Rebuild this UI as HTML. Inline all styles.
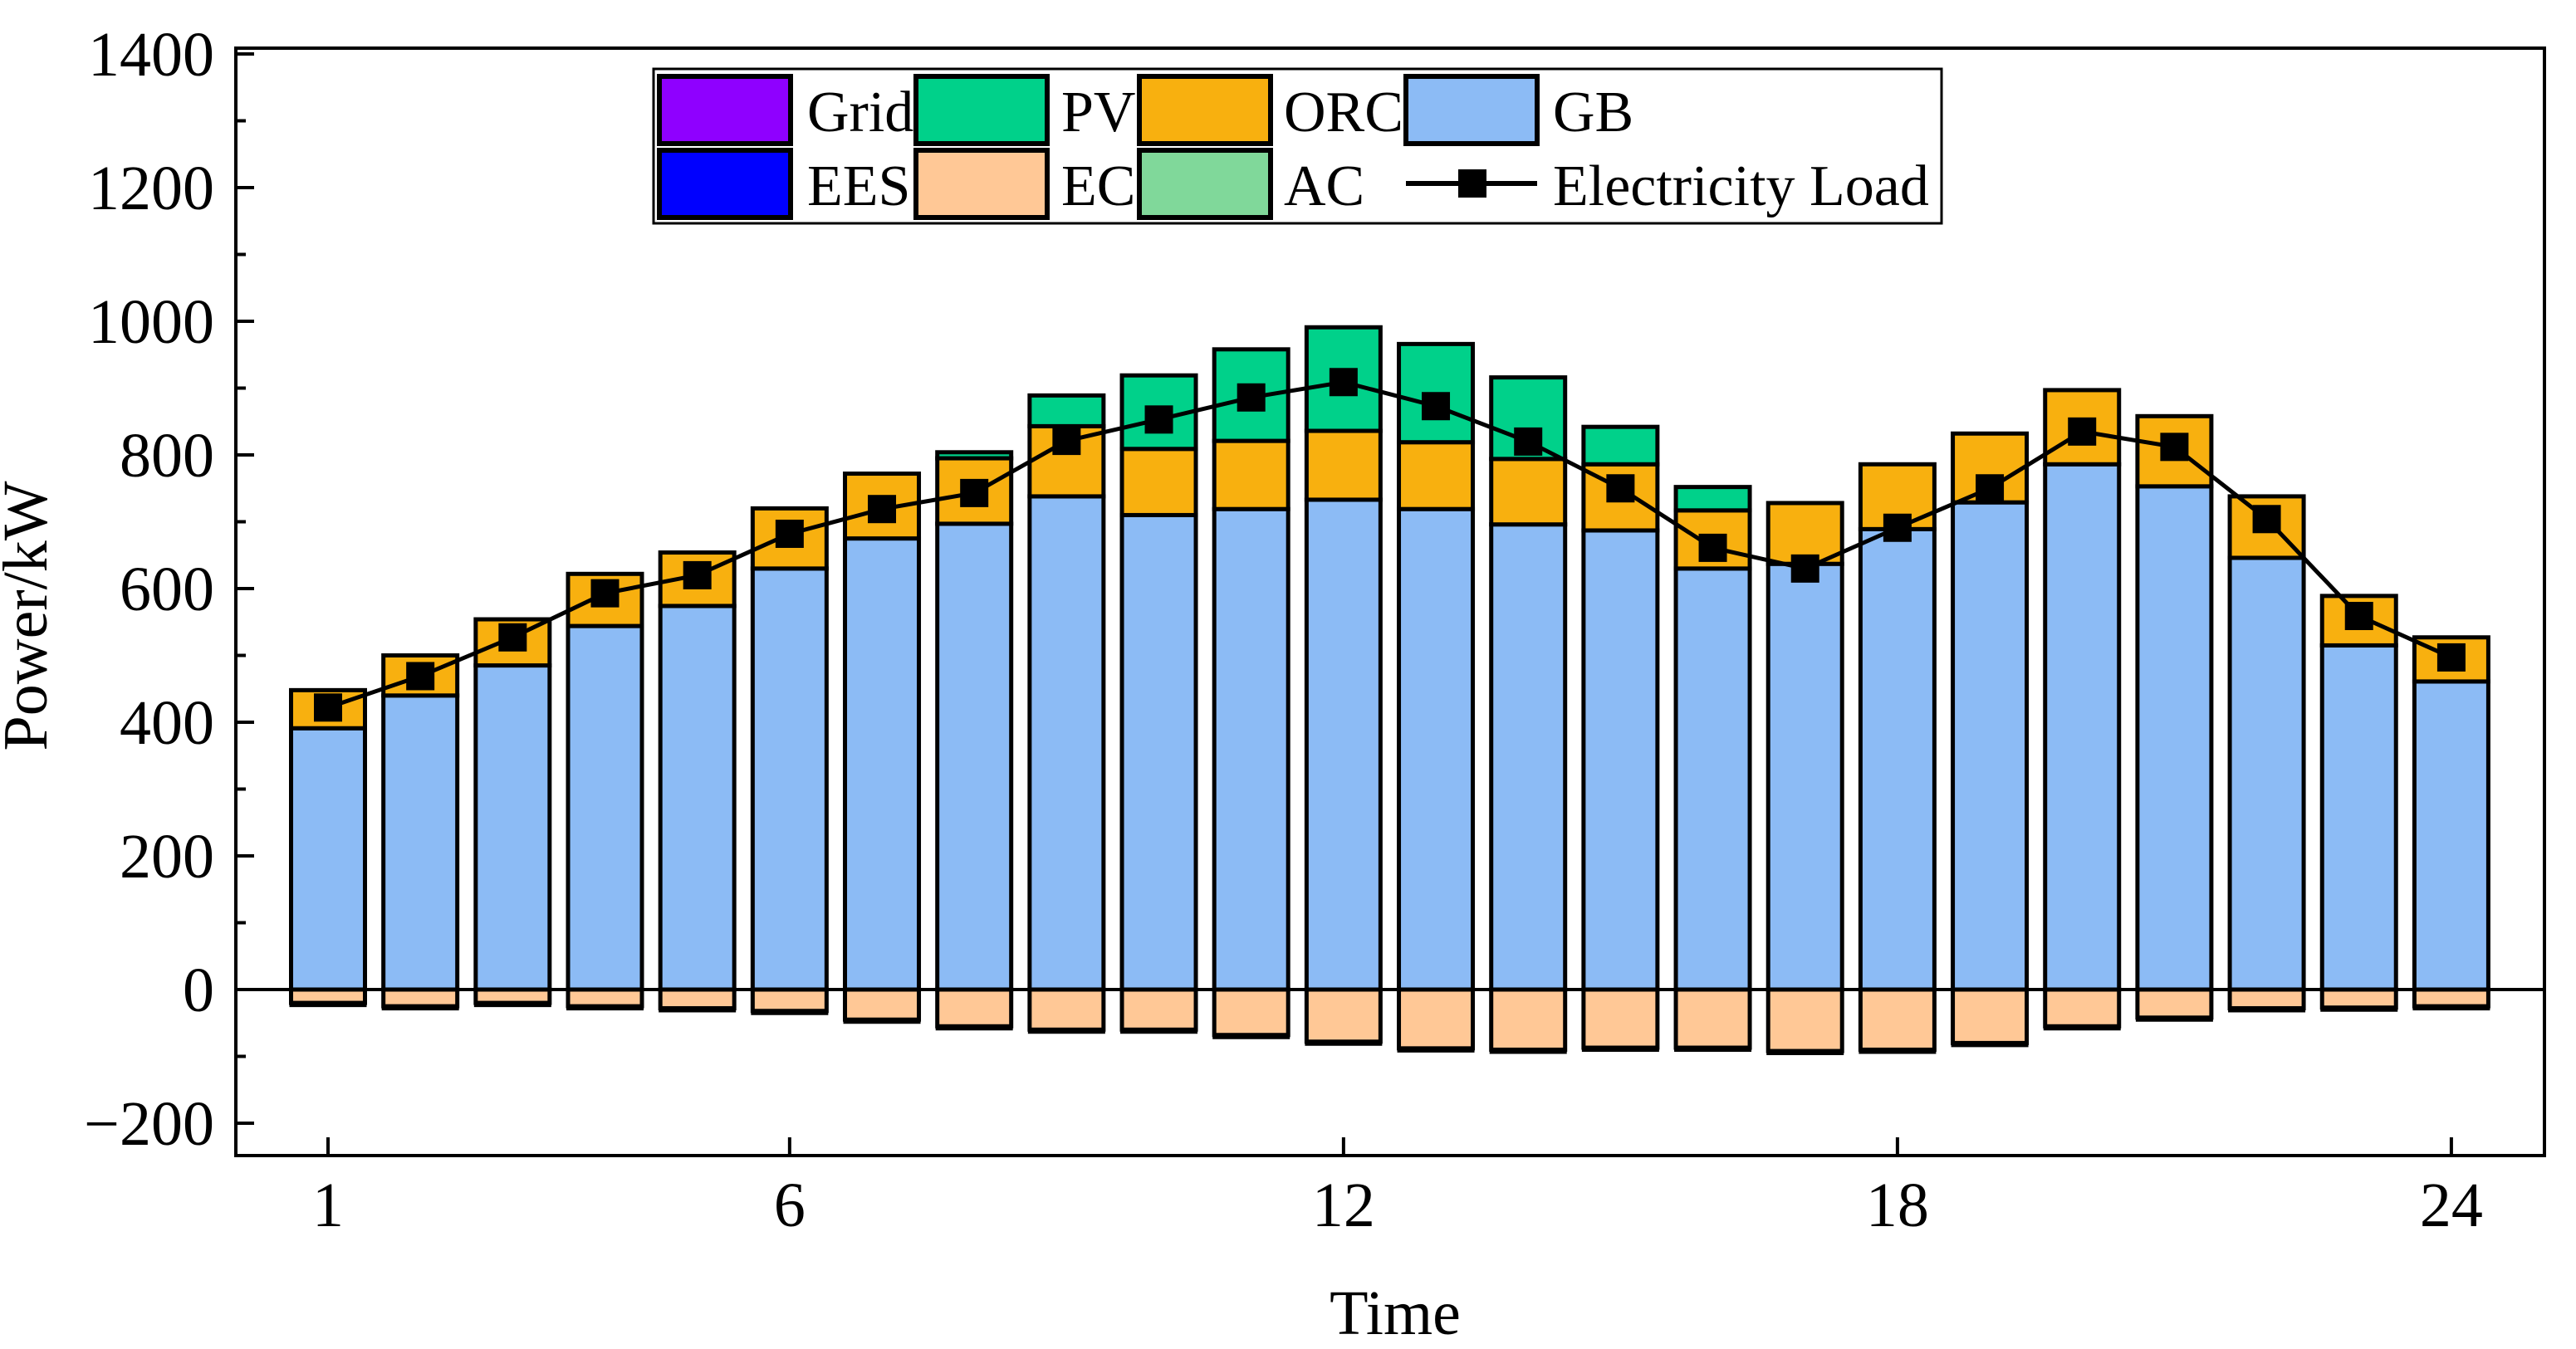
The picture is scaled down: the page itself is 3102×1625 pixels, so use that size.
<!DOCTYPE html>
<html><head><meta charset="utf-8"><style>
html,body{margin:0;padding:0;background:#fff;}
svg{display:block;font-family:"Liberation Serif",serif;}
</style></head><body>
<svg id="chart" width="3102" height="1625" viewBox="0 0 3102 1625" xmlns="http://www.w3.org/2000/svg">
<g id="bars"></g>
<g id="line"></g>
<g id="axes"></g>
<text x="1680" y="1607" font-size="76" text-anchor="middle">Time</text>
<text x="0" y="0" font-size="76" text-anchor="middle" transform="translate(56,742) rotate(-90)">Power/kW</text>
<g id="legend">
 <rect x="787" y="83" width="1551" height="186" fill="#fff" stroke="#000" stroke-width="3"/>
 <g><rect x="794" y="92" width="158" height="81" fill="#8F00FF" stroke="#000" stroke-width="6"/><text x="972" y="158" font-size="70">Grid</text></g>
 <g><rect x="1103" y="92" width="158" height="81" fill="#00D18A" stroke="#000" stroke-width="6"/><text x="1278" y="158" font-size="70">PV</text></g>
 <g><rect x="1372" y="92" width="158" height="81" fill="#F8B00F" stroke="#000" stroke-width="6"/><text x="1546" y="158" font-size="70">ORC</text></g>
 <g><rect x="1693" y="92" width="158" height="81" fill="#8CBBF5" stroke="#000" stroke-width="6"/><text x="1870" y="158" font-size="70">GB</text></g>
 <g><rect x="794" y="181" width="158" height="81" fill="#0000FF" stroke="#000" stroke-width="6"/><text x="972" y="247" font-size="70">EES</text></g>
 <g><rect x="1103" y="181" width="158" height="81" fill="#FFC896" stroke="#000" stroke-width="6"/><text x="1278" y="247" font-size="70">EC</text></g>
 <g><rect x="1372" y="181" width="158" height="81" fill="#80D89A" stroke="#000" stroke-width="6"/><text x="1546" y="247" font-size="70">AC</text></g>
 <g><line x1="1693" y1="221" x2="1851" y2="221" stroke="#000" stroke-width="6"/><rect x="1756" y="204" width="34" height="34" fill="#000"/><text x="1870" y="247" font-size="70">Electricity Load</text></g>
</g>
</svg>
<script>
const hours = [1,2,3,4,5,6,7,8,9,10,11,12,13,14,15,16,17,18,19,20,21,22,23,24];
const gb  = [391,440,485,544,574,630,675,697,738,710,719,733,719,696,687,630,637,689,729,786,753,646,515,461];
const orc = [57,60,69,78,80,90,97,98,105,99,102,103,100,98,99,87,91,97,103,111,105,92,74,66];
const pv  = [0,0,0,0,0,0,0,9,46,110,137,155,147,122,56,35,0,0,0,0,0,0,0,0];
const ec  = [-20,-25,-20,-25,-28,-32,-45,-55,-60,-60,-68,-78,-88,-90,-87,-87,-92,-90,-80,-55,-42,-28,-27,-25];
const load = [422,469,527,593,620,682,719,743,821,853,886,909,873,820,750,661,630,691,750,835,812,704,559,497];
const yTicks = [-200,0,200,400,600,800,1000,1200,1400];
const xTickLabels = [1,6,12,18,24];

const NS="http://www.w3.org/2000/svg";
const X0=395, DX=111.17, Y0=1192, KY=0.805;
function xs(h){return X0+(h-1)*DX;}
function ys(v){return Y0-v*KY;}
function mk(tag,attrs,parent){const e=document.createElementNS(NS,tag);for(const k in attrs)e.setAttribute(k,attrs[k]);parent.appendChild(e);return e;}
const bars=document.getElementById('bars'),line=document.getElementById('line'),axes=document.getElementById('axes');
const BW=89;
hours.forEach((h,i)=>{
  const cx=xs(h);
  let base=0;
  const segs=[['gb',gb[i],'#8CBBF5'],['orc',orc[i],'#F8B00F'],['pv',pv[i],'#00D18A']];
  segs.forEach(s=>{
    if(s[1]<=0)return;
    const r=mk('rect',{x:cx-BW/2,y:ys(base+s[1]),width:BW,height:s[1]*KY,fill:s[2],stroke:'#000','stroke-width':5},bars);
    
    
    base+=s[1];
  });
  const r=mk('rect',{x:cx-BW/2,y:Y0,width:BW,height:-ec[i]*KY,fill:'#FFC896',stroke:'#000','stroke-width':5},bars);
  
  
  const b=mk('line',{x1:cx-BW/2-2,x2:cx+BW/2+2,y1:ys(ec[i])+2,y2:ys(ec[i])+2,stroke:'#000','stroke-width':6},bars);
  
  
});
const pts=hours.map((h,i)=>xs(h)+','+ys(load[i])).join(' ');
const pl=mk('polyline',{points:pts,fill:'none',stroke:'#000','stroke-width':5},line);


hours.forEach((h,i)=>{
  const m=mk('rect',{x:xs(h)-17,y:ys(load[i])-17,width:34,height:34,fill:'#000'},line);
  
  
});
const L=284,R=3064,T=58,B=1392;
const fr=mk('rect',{x:L,y:T,width:R-L,height:B-T,fill:'none',stroke:'#000','stroke-width':4},axes);


const zl=mk('line',{x1:L,x2:R,y1:Y0,y2:Y0,stroke:'#000','stroke-width':4},axes);


yTicks.forEach(v=>{
  const t=mk('line',{x1:L,x2:L+22,y1:ys(v),y2:ys(v),stroke:'#000','stroke-width':4},axes);
  
  
  const lb=mk('text',{x:258,y:ys(v)+26,'font-size':76,'text-anchor':'end'},axes);
  lb.textContent=v<0?'\u2212'+(-v):String(v);
  
  
  if(v<1400){
    const m=mk('line',{x1:L,x2:L+12,y1:ys(v+100),y2:ys(v+100),stroke:'#000','stroke-width':4},axes);
    
    
  }
});
xTickLabels.forEach(h=>{
  const t=mk('line',{x1:xs(h),x2:xs(h),y1:B,y2:B-22,stroke:'#000','stroke-width':4},axes);
  
  
  const lb=mk('text',{x:xs(h),y:1477,'font-size':76,'text-anchor':'middle'},axes);
  lb.textContent=String(h);
  
  
});
</script>
</body></html>
